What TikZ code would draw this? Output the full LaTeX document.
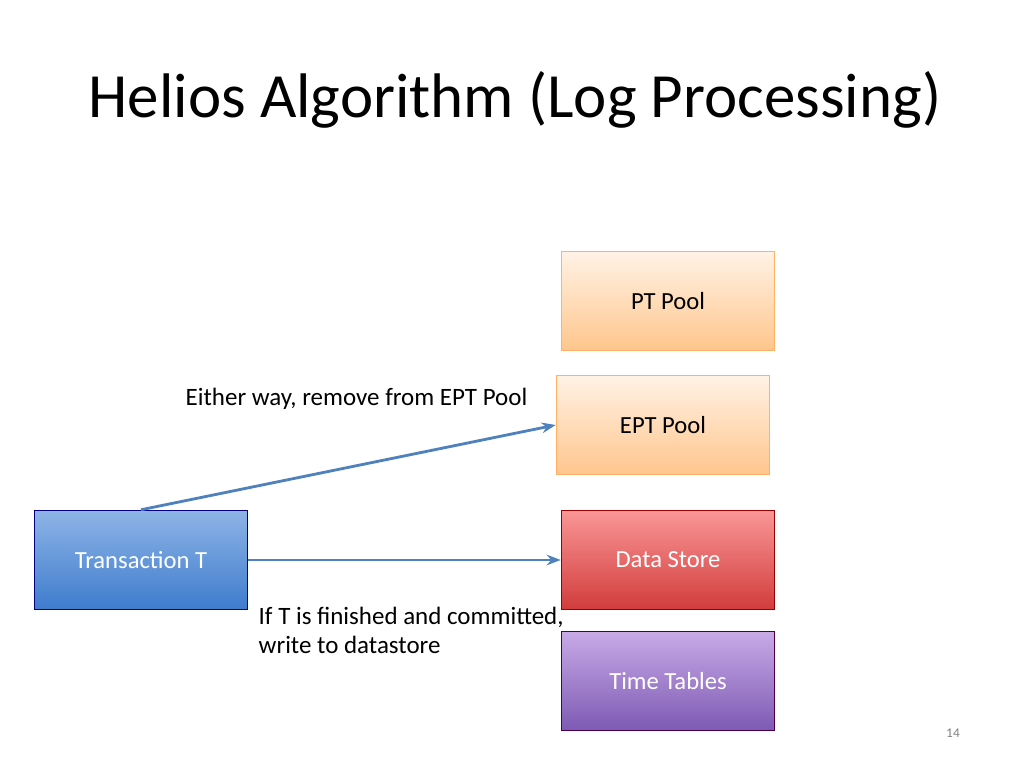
\documentclass[tikz,border=0pt]{standalone}
\usepackage{fontspec}
\setmainfont{Carlito}
\usetikzlibrary{arrows.meta}
\definecolor{bluetop}{RGB}{142,180,230}
\definecolor{bluebot}{RGB}{62,124,205}
\definecolor{redtop}{RGB}{250,150,150}
\definecolor{redbot}{RGB}{210,60,60}
\definecolor{purptop}{RGB}{200,170,230}
\definecolor{purpbot}{RGB}{125,90,180}
\begin{document}
\begin{tikzpicture}[x=0.01cm,y=-0.01cm]
    % Define block styles
    \tikzstyle{pool} = [rectangle, minimum width=2.13cm, minimum height=0.99cm, text centered, draw=orange!60, top color=orange!10, bottom color=orange!45, font=\fontsize{7}{8}\selectfont]
    \tikzstyle{store} = [pool, draw=red!60!black, top color=redtop, bottom color=redbot, text=white]
    \tikzstyle{tables} = [pool, draw=violet!60!black, top color=purptop, bottom color=purpbot, text=white]
    \tikzstyle{trans} = [pool, draw=blue!50!black, top color=bluetop, bottom color=bluebot, text=white]
    \tikzstyle{arrow} = [thick, draw={rgb,255:red,79;green,129;blue,189}, -{Stealth[length=4pt]}]
    \tikzstyle{note} = [font=\fontsize{7.1}{8.5}\selectfont, anchor=north west, inner sep=0pt, align=left]

    \useasboundingbox (0,0) rectangle (1024,768);

    % Title
    \node (title) [anchor=base west, inner sep=0pt, font=\fontsize{17.9}{21}\selectfont] at (88,118) {Helios Algorithm (Log Processing)};

    % Draw nodes
    \node (pt) [pool] at (668,301) {PT Pool};
    \node (ept) [pool] at (663,425) {EPT Pool};
    \node (store) [store] at (668,560) {Data Store};
    \node (tables) [tables] at (668,681) {Time Tables};
    \node (trans) [trans] at (141,560) {Transaction T};

    % Draw edges
    \draw [arrow] (trans.north) -- (ept.west);
    \draw [arrow] (trans.east) -- (store.west);

    % Labels
    \node (either) [note] at (185,387) {Either way, remove from EPT Pool};
    \node (ifT) [note] at (258,606) {If T is finished and committed,\\write to datastore};
    \node (page) [font=\fontsize{3.8}{4}\selectfont, text=gray] at (953,733) {14};
\end{tikzpicture}
\end{document}
